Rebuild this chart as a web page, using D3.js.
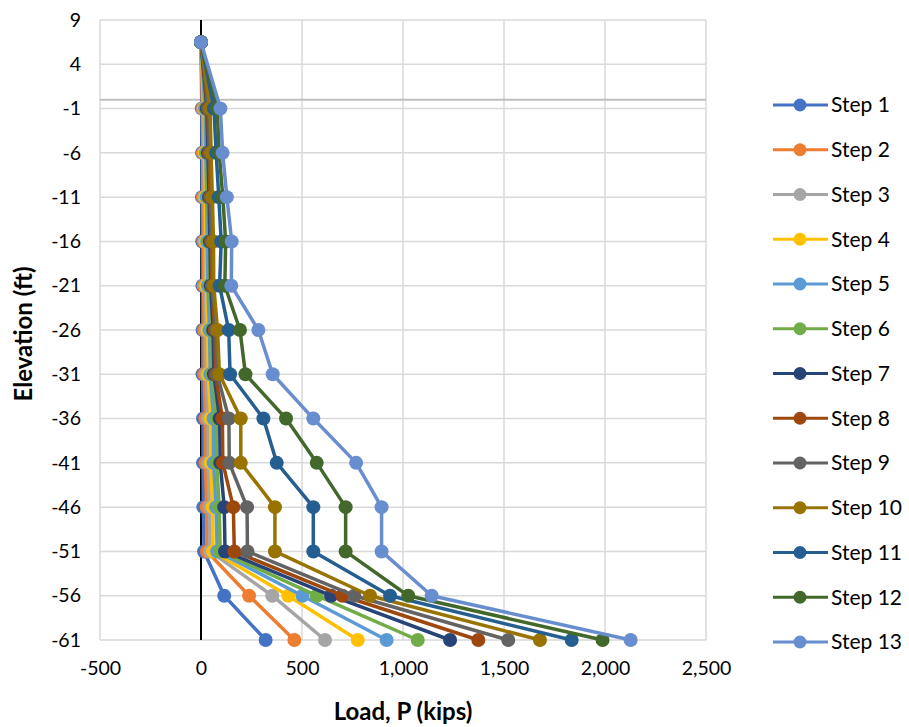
<!DOCTYPE html>
<html>
<head>
<meta charset="utf-8">
<script src="https://cdn.jsdelivr.net/npm/d3@7"></script>
<style>
  html, body { margin: 0; padding: 0; background: #ffffff; }
  svg { display: block; font-family: Lato, "Open Sans", sans-serif; }
</style>
</head>
<body>
<svg id="chart" width="909" height="727"></svg>
<script>
// Elevation of each reading along the pile (ft)
const elevations = [6.5, -1, -6, -11, -16, -21, -26, -31, -36, -41, -46, -51, -56, -61];

// Axial load at each elevation for every load step (kips)
const step1  = [0, 4, 5, 5, 6, 7, 8, 8, 10, 10, 12, 15, 115, 320];
const step2  = [0, 8, 9, 10, 12, 13, 15, 16, 22, 22, 28, 30, 238, 462];
const step3  = [0, 12, 14, 16, 18, 20, 24, 26, 35, 35, 42, 45, 353, 614];
const step4  = [0, 16, 19, 22, 25, 27, 33, 36, 48, 48, 58, 60, 432, 776];
const step5  = [0, 20, 24, 28, 31, 34, 42, 46, 62, 62, 75, 80, 502, 919];
const step6  = [0, 25, 29, 34, 38, 41, 52, 56, 76, 78, 90, 95, 573, 1073];
const step7  = [0, 29, 34, 40, 44, 48, 60, 64, 92, 95, 115, 119, 644, 1233];
const step8  = [0, 33, 39, 45, 50, 54, 68, 72, 106, 108, 160, 165, 700, 1373];
const step9  = [0, 38, 44, 50, 55, 58, 74, 80, 138, 140, 228, 230, 759, 1521];
const step10 = [0, 45, 50, 56, 62, 63, 82, 91, 197, 197, 366, 366, 837, 1678];
const step11 = [0, 64, 75, 88, 100, 92, 137, 144, 309, 375, 556, 556, 936, 1835];
const step12 = [0, 80, 90, 108, 122, 118, 193, 220, 421, 573, 716, 716, 1026, 1988];
const step13 = [0, 96, 107, 128, 152, 150, 284, 355, 556, 768, 894, 894, 1142, 2127];

const seriesNames = ["Step 1", "Step 2", "Step 3", "Step 4", "Step 5", "Step 6", "Step 7",
                     "Step 8", "Step 9", "Step 10", "Step 11", "Step 12", "Step 13"];
const seriesValues = [step1, step2, step3, step4, step5, step6, step7,
                      step8, step9, step10, step11, step12, step13];
const seriesColors = ["#4472C4", "#ED7D31", "#A5A5A5", "#FFC000", "#5B9BD5", "#70AD47", "#264478",
                      "#9E480E", "#636363", "#997300", "#255E91", "#43682B", "#698ED0"];

// Axis ticks
const xTicks = [-500, 0, 500, 1000, 1500, 2000, 2500];
const yTicks = [9, 4, -1, -6, -11, -16, -21, -26, -31, -36, -41, -46, -51, -56, -61];

const svg = d3.select("#chart");
const plot = { left: 100, right: 706, top: 20, bottom: 640 };

const x = d3.scaleLinear().domain([-500, 2500]).range([plot.left, plot.right]);
const y = d3.scaleLinear().domain([-61, 9]).range([plot.bottom, plot.top]);

// Gridlines
const grid = svg.append("g");
grid.selectAll("line.h").data(yTicks).join("line")
  .attr("x1", plot.left).attr("x2", plot.right)
  .attr("y1", d => y(d)).attr("y2", d => y(d))
  .attr("stroke", "#D9D9D9").attr("stroke-width", 1.5);
grid.selectAll("line.v").data(xTicks).join("line")
  .attr("y1", plot.top).attr("y2", plot.bottom)
  .attr("x1", d => x(d)).attr("x2", d => x(d))
  .attr("stroke", "#D9D9D9").attr("stroke-width", 1.5);

// Load axis line crosses at elevation 0; elevation axis line crosses at load 0
svg.append("line")
  .attr("x1", plot.left).attr("x2", plot.right)
  .attr("y1", y(0)).attr("y2", y(0))
  .attr("stroke", "#BFBFBF").attr("stroke-width", 2);
svg.append("line")
  .attr("x1", x(0)).attr("x2", x(0))
  .attr("y1", plot.top).attr("y2", plot.bottom)
  .attr("stroke", "#000000").attr("stroke-width", 2);

// Tick labels (plain hyphen for negatives)
const fmtX = d => d3.format(",")(d).replace("\u2212", "-");
const fmtY = d => d3.format("d")(d).replace("\u2212", "-");
const xAxis = d3.axisBottom(x).tickValues(xTicks).tickFormat(fmtX).tickSize(0).tickPadding(0);
const xg = svg.append("g").attr("transform", `translate(0,${plot.bottom + 21})`).call(xAxis);
xg.select(".domain").remove();
xg.selectAll("text").attr("fill", "#000").style("font-size", "19.5px").attr("dy", "0.71em")
  .style("font-family", "Lato, 'Open Sans', sans-serif");

const yAxis = d3.axisLeft(y).tickValues(yTicks).tickFormat(fmtY).tickSize(0).tickPadding(0);
const yg = svg.append("g").attr("transform", `translate(${plot.left - 19},0)`).call(yAxis);
yg.select(".domain").remove();
yg.selectAll("text").attr("fill", "#000").style("font-size", "19.5px")
  .style("font-family", "Lato, 'Open Sans', sans-serif");

// Axis titles
svg.append("text")
  .attr("x", x(1000)).attr("y", 720)
  .attr("text-anchor", "middle")
  .style("font-size", "24px").style("font-weight", "bold")
  .text("Load, P (kips)");
svg.append("text")
  .attr("transform", `translate(32,${(plot.top + plot.bottom) / 2 + 4}) rotate(-90)`)
  .attr("text-anchor", "middle")
  .style("font-size", "24px").style("font-weight", "bold")
  .text("Elevation (ft)");

// Series lines and markers
const line = d3.line().x(d => x(d[0])).y(d => y(d[1]));
seriesValues.forEach((vals, i) => {
  const pts = vals.map((v, j) => [v, elevations[j]]);
  const g = svg.append("g");
  g.append("path")
    .attr("d", line(pts))
    .attr("fill", "none")
    .attr("stroke", seriesColors[i])
    .attr("stroke-width", 3.5)
    .attr("stroke-linejoin", "round");
  g.selectAll("circle").data(pts).join("circle")
    .attr("cx", d => x(d[0])).attr("cy", d => y(d[1]))
    .attr("r", 7)
    .attr("fill", seriesColors[i]);
});

// Legend
const legend = svg.append("g");
seriesNames.forEach((name, i) => {
  const ly = 105 + i * 44.75;
  legend.append("line")
    .attr("x1", 773).attr("x2", 828).attr("y1", ly).attr("y2", ly)
    .attr("stroke", seriesColors[i]).attr("stroke-width", 3);
  legend.append("circle")
    .attr("cx", 800).attr("cy", ly).attr("r", 6.5)
    .attr("fill", seriesColors[i]);
  legend.append("text")
    .attr("x", 831).attr("y", ly).attr("dy", "0.35em")
    .style("font-size", "21px")
    .text(name);
});
</script>
</body>
</html>
